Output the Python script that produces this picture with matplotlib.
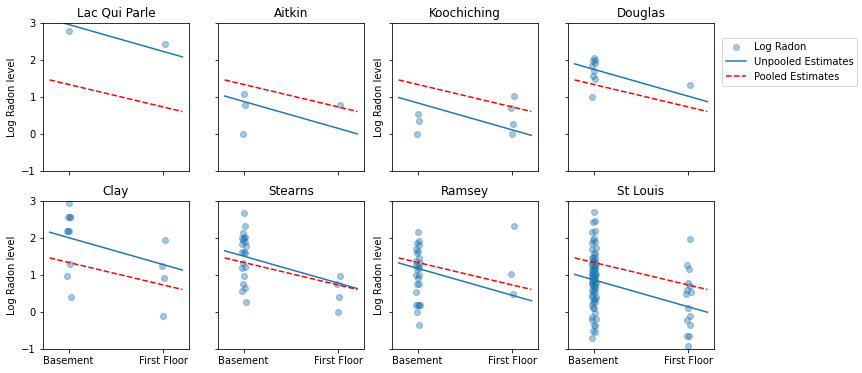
import matplotlib
matplotlib.use("Agg")
import matplotlib.pyplot as plt
import numpy as np

counties = ["Lac Qui Parle", "Aitkin", "Koochiching", "Douglas",
            "Clay", "Stearns", "Ramsey", "St Louis"]

# log radon readings, split by floor (0 = basement, 1 = first floor)
basement = {
    "Lac Qui Parle": [2.78],
    "Aitkin": [1.07, 0.78, 0.0],
    "Koochiching": [0.53, 0.35, 0.0],
    "Douglas": [2.05, 2.0, 1.96, 1.91, 1.85, 1.70, 1.57, 1.48, 0.99],
    "Clay": [2.95, 2.58, 2.58, 2.56, 2.2, 2.2, 2.19, 1.29, 0.96, 0.40],
    "Stearns": [2.67, 2.32, 2.13, 2.02, 2.0, 1.99, 1.95, 1.90, 1.84, 1.78,
                1.63, 1.62, 1.60, 1.33, 1.21, 1.19, 0.96, 0.75, 0.64, 0.58, 0.26],
    "Ramsey": [2.15, 1.93, 1.86, 1.80, 1.70, 1.65, 1.60, 1.45, 1.39, 1.33,
               1.27, 1.25, 1.20, 1.16, 1.0, 0.99, 0.93, 0.75, 0.75, 0.53,
               0.19, 0.19, 0.18, 0.20, -0.01, -0.35],
    "St Louis": [2.69, 2.46, 2.44, 2.19, 2.15, 1.99, 1.95, 1.90, 1.86, 1.72,
                 1.70, 1.59, 1.56, 1.50, 1.47, 1.45, 1.41, 1.39, 1.36, 1.33,
                 1.30, 1.28, 1.25, 1.22, 1.19, 1.16, 1.13, 1.13, 1.10, 1.06,
                 1.03, 1.03, 1.0, 0.99, 0.96, 0.96, 0.92, 0.88, 0.88, 0.85,
                 0.83, 0.79, 0.79, 0.77, 0.74, 0.69, 0.69, 0.64, 0.59, 0.59,
                 0.53, 0.53, 0.47, 0.41, 0.41, 0.34, 0.34, 0.26, 0.26, 0.18,
                 0.12, 0.10, -0.04, -0.13, -0.19, -0.22, -0.35, -0.37, -0.51,
                 -0.53, -0.69],
}
first_floor = {
    "Lac Qui Parle": [2.42],
    "Aitkin": [0.78],
    "Koochiching": [1.02, 0.69, 0.26, 0.0],
    "Douglas": [1.32],
    "Clay": [1.94, 1.25, 0.91, -0.12],
    "Stearns": [0.96, 0.75, 0.40, -0.01],
    "Ramsey": [2.32, 1.02, 0.48],
    "St Louis": [1.96, 1.27, 1.15, 0.78, 0.70, 0.59, 0.53, 0.48, 0.12,
                 -0.11, -0.22, -0.35, -0.66, -0.66, -0.91],
}

# unpooled intercepts per county, shared floor slope
unpooled_a = [2.96, 0.88, 0.84, 1.75, 2.01, 1.51, 1.18, 0.87]
unpooled_b = -0.73
pooled_a = 1.34
pooled_b = -0.61

# small fixed horizontal jitter so stacked points spread a little
jitter = [0.0, 0.012, -0.010, 0.020, -0.018, 0.006, -0.004, 0.015, -0.012, 0.024, -0.022]

W, H = 862, 373
fig = plt.figure(figsize=(W / 72, H / 72), dpi=72)
lefts = [43, 218, 392, 568]
tops = [23, 201]
aw, ah = 146, 148

xvals = np.linspace(-0.2, 1.2)
axes = []
first = None
for i, c in enumerate(counties):
    row, col = divmod(i, 4)
    rect = [lefts[col] / W, 1 - (tops[row] + ah) / H, aw / W, ah / H]
    ax = fig.add_axes(rect, sharex=first, sharey=first)
    if first is None:
        first = ax
    axes.append(ax)

    yb = basement[c]
    yf = first_floor[c]
    x = [0 + jitter[k % len(jitter)] for k in range(len(yb))] + \
        [1 + jitter[(k + 3) % len(jitter)] for k in range(len(yf))]
    ax.scatter(x, yb + yf, alpha=0.4, label="Log Radon")
    ax.plot(xvals, unpooled_a[i] + unpooled_b * xvals, label="Unpooled Estimates")
    ax.plot(xvals, pooled_a + pooled_b * xvals, "r--", label="Pooled Estimates")
    ax.set_title(c)
    ax.set_xticks([0, 1])
    ax.set_xticklabels(["Basement", "First Floor"])
    ax.set_ylim(-1, 3)
    if row == 0:
        ax.tick_params(labelbottom=False)
    if col != 0:
        ax.tick_params(labelleft=False)
    if col % 2 == 0:
        ax.set_ylabel("Log Radon level")

axes[3].legend(loc="upper left", bbox_to_anchor=(1.053, 0.9), borderaxespad=0)

fig.savefig("out.png", dpi=72)
